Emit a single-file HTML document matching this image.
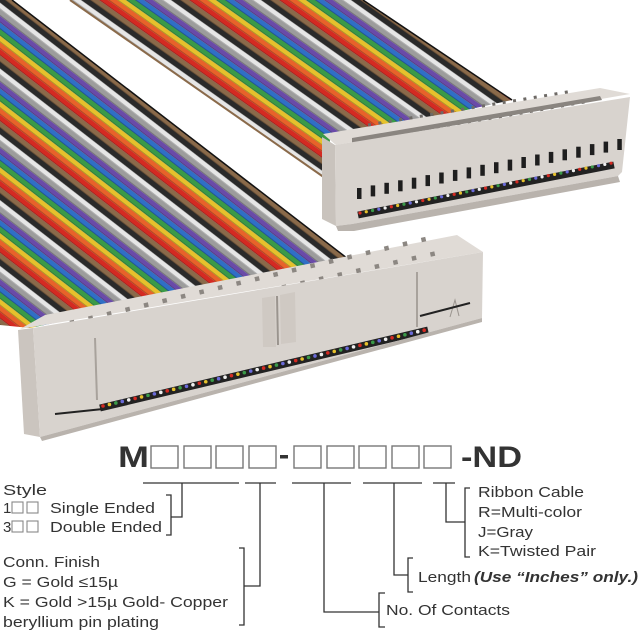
<!DOCTYPE html>
<html><head><meta charset="utf-8"><style>
html,body{margin:0;padding:0;background:#fff}
svg{display:block}
text{font-family:"Liberation Sans",sans-serif;fill:#333}
</style></head><body>
<svg width="640" height="640" viewBox="0 0 640 640" xmlns="http://www.w3.org/2000/svg">
<defs>
<g id="stripes">
<rect x="0" width="5.2" height="20" fill="#8a6a4a"/>
<rect x="5.2" width="5.2" height="20" fill="#d42a22"/>
<rect x="10.4" width="5.2" height="20" fill="#e8622a"/>
<rect x="15.6" width="5.2" height="20" fill="#e6c12c"/>
<rect x="20.8" width="5.2" height="20" fill="#3a9a48"/>
<rect x="26" width="5.2" height="20" fill="#2f6fc6"/>
<rect x="31.2" width="5.2" height="20" fill="#6a4aa8"/>
<rect x="36.4" width="5.2" height="20" fill="#9c9c9c"/>
<rect x="41.6" width="5.2" height="20" fill="#e6e6e6"/>
<rect x="46.8" width="5.2" height="20" fill="#2a2a2a"/>
<rect x="0" width="0.8" height="20" fill="#000" opacity=".3"/>
<rect x="5.2" width="0.8" height="20" fill="#000" opacity=".3"/>
<rect x="10.4" width="0.8" height="20" fill="#000" opacity=".3"/>
<rect x="15.6" width="0.8" height="20" fill="#000" opacity=".3"/>
<rect x="20.8" width="0.8" height="20" fill="#000" opacity=".3"/>
<rect x="26" width="0.8" height="20" fill="#000" opacity=".3"/>
<rect x="31.2" width="0.8" height="20" fill="#000" opacity=".3"/>
<rect x="36.4" width="0.8" height="20" fill="#000" opacity=".3"/>
<rect x="41.6" width="0.8" height="20" fill="#000" opacity=".3"/>
</g>
<pattern id="wR" patternUnits="userSpaceOnUse" width="52" height="20" patternTransform="rotate(-54.7)"><use href="#stripes"/></pattern>
<pattern id="wL" patternUnits="userSpaceOnUse" width="52" height="20" patternTransform="translate(5,0) rotate(-52.2)"><use href="#stripes"/></pattern>
</defs>

<!-- right ribbon -->
<polygon points="70,0 363,0 512,100 330,140 325,178" fill="url(#wR)"/>
<line x1="363" y1="0" x2="512" y2="100" stroke="#111" stroke-width="1.5"/>
<line x1="70" y1="0" x2="325" y2="178" stroke="#8a6a4a" stroke-width="2"/>
<!-- left ribbon -->
<polygon points="0,0 12,0 352,262 30,328 0,325" fill="url(#wL)"/>
<line x1="12" y1="0" x2="352" y2="262" stroke="#111" stroke-width="1.5"/>

<!-- small connector -->
<polygon points="323,134 600,88 630,94 336,145" fill="#e0dbd6"/>
<line x1="368" y1="125" x2="573" y2="91" stroke="#6e6a66" stroke-width="3" stroke-dasharray="3 7.5"/>
<line x1="385" y1="137" x2="590" y2="101" stroke="#6e6a66" stroke-width="3" stroke-dasharray="3 7.5"/>
<polygon points="352,138 600,96 602,100 352,143" fill="#8a8580"/>
<polygon points="322,137 335,145 336,226 322,219" fill="#c9c3bd"/>
<polygon points="335,145 630,97 622,172 618,176 352,224 336,226" fill="#d8d3ce"/>
<line x1="358" y1="215" x2="614" y2="165" stroke="#222" stroke-width="7"/>
<line x1="360" y1="213" x2="612" y2="163" stroke="#d42a22" stroke-width="3.2" stroke-linecap="round" stroke-dasharray="0 32" stroke-dashoffset="0"/>
<line x1="360" y1="213" x2="612" y2="163" stroke="#e6c12c" stroke-width="3.2" stroke-linecap="round" stroke-dasharray="0 32" stroke-dashoffset="-6.4"/>
<line x1="360" y1="213" x2="612" y2="163" stroke="#3a9a48" stroke-width="3.2" stroke-linecap="round" stroke-dasharray="0 32" stroke-dashoffset="-12.8"/>
<line x1="360" y1="213" x2="612" y2="163" stroke="#6a6ad8" stroke-width="3.2" stroke-linecap="round" stroke-dasharray="0 32" stroke-dashoffset="-19.2"/>
<line x1="360" y1="213" x2="612" y2="163" stroke="#f0f0f0" stroke-width="3.2" stroke-linecap="round" stroke-dasharray="0 32" stroke-dashoffset="-25.6"/>
<polygon points="336,226 352,224 618,176 620,182 354,231 338,231" fill="#b9b3ad"/>
<g fill="#1e1e1e">
<rect x="357" y="188" width="4.5" height="11"/><rect x="370.7" y="185.4" width="4.5" height="11"/><rect x="384.4" y="182.8" width="4.5" height="11"/><rect x="398.1" y="180.3" width="4.5" height="11"/><rect x="411.8" y="177.7" width="4.5" height="11"/><rect x="425.5" y="175.1" width="4.5" height="11"/><rect x="439.2" y="172.5" width="4.5" height="11"/><rect x="452.9" y="169.9" width="4.5" height="11"/><rect x="466.6" y="167.4" width="4.5" height="11"/><rect x="480.3" y="164.8" width="4.5" height="11"/><rect x="494" y="162.2" width="4.5" height="11"/><rect x="507.7" y="159.6" width="4.5" height="11"/><rect x="521.4" y="157" width="4.5" height="11"/><rect x="535.1" y="154.5" width="4.5" height="11"/><rect x="548.8" y="151.9" width="4.5" height="11"/><rect x="562.5" y="149.3" width="4.5" height="11"/><rect x="576.2" y="146.7" width="4.5" height="11"/><rect x="589.9" y="144.1" width="4.5" height="11"/><rect x="603.6" y="141.6" width="4.5" height="11"/><rect x="617.3" y="139" width="4.5" height="11"/>
</g>

<!-- big connector -->
<polygon points="20,329 45,315 457,235 483,252" fill="#e0dbd6"/>
<line x1="70" y1="323" x2="430" y2="238" stroke="#8c8782" stroke-width="4.5" stroke-dasharray="4.5 14.5"/>
<line x1="78" y1="333" x2="442" y2="252" stroke="#8c8782" stroke-width="4.5" stroke-dasharray="4.5 14.5"/>
<polygon points="18,330 33,328 40,437 24,434" fill="#cbc5bf"/>
<polygon points="33,328 483,252 482,318 40,437" fill="#d8d3ce"/>
<polygon points="262,298 275,296 276,347 263,347" fill="#cfc9c3"/>
<polygon points="280,295 295,292 296,342 281,344" fill="#cfc9c3"/>
<line x1="277" y1="296" x2="278" y2="345" stroke="#9a948e" stroke-width="2"/>
<line x1="95" y1="338" x2="97" y2="400" stroke="#a8a29c" stroke-width="2"/>
<line x1="417" y1="272" x2="417" y2="327" stroke="#a8a29c" stroke-width="2"/>
<polyline points="450,317 455,300 459,316" fill="none" stroke="#9a948e" stroke-width="1"/>
<line x1="55" y1="414" x2="103" y2="409" stroke="#222" stroke-width="2"/>
<line x1="420" y1="316" x2="470" y2="303" stroke="#222" stroke-width="2"/>
<line x1="100" y1="408" x2="428" y2="330" stroke="#222" stroke-width="7"/>
<line x1="103" y1="406" x2="425" y2="330" stroke="#d42a22" stroke-width="3.6" stroke-linecap="round" stroke-dasharray="0 33" stroke-dashoffset="0"/>
<line x1="103" y1="406" x2="425" y2="330" stroke="#e6c12c" stroke-width="3.6" stroke-linecap="round" stroke-dasharray="0 33" stroke-dashoffset="-6.6"/>
<line x1="103" y1="406" x2="425" y2="330" stroke="#3a9a48" stroke-width="3.6" stroke-linecap="round" stroke-dasharray="0 33" stroke-dashoffset="-13.2"/>
<line x1="103" y1="406" x2="425" y2="330" stroke="#6a6ad8" stroke-width="3.6" stroke-linecap="round" stroke-dasharray="0 33" stroke-dashoffset="-19.8"/>
<line x1="103" y1="406" x2="425" y2="330" stroke="#f0f0f0" stroke-width="3.6" stroke-linecap="round" stroke-dasharray="0 33" stroke-dashoffset="-26.4"/>
<polygon points="40,437 482,318 482,322 42,441" fill="#b9b3ad"/>

<!-- part number -->
<text x="118" y="467" font-size="30" font-weight="bold" textLength="31" lengthAdjust="spacingAndGlyphs">M</text>
<g fill="none" stroke="#777" stroke-width="1.4">
<rect x="151" y="446" width="27" height="22"/><rect x="184" y="446" width="27" height="22"/><rect x="216" y="446" width="27" height="22"/><rect x="249" y="446" width="27" height="22"/>
<rect x="294" y="446" width="27" height="22"/><rect x="327" y="446" width="27" height="22"/><rect x="359" y="446" width="27" height="22"/><rect x="392" y="446" width="27" height="22"/><rect x="424" y="446" width="27" height="22"/>
</g>
<rect x="280" y="455" width="8" height="3.5" fill="#333"/>
<text x="461" y="467" font-size="30" font-weight="bold" textLength="61" lengthAdjust="spacingAndGlyphs">-ND</text>

<g stroke="#333" stroke-width="1.3" fill="none">
<line x1="143" y1="483" x2="239" y2="483"/><line x1="245" y1="483" x2="276" y2="483"/><line x1="292" y1="483" x2="351" y2="483"/><line x1="363" y1="483" x2="422" y2="483"/><line x1="433" y1="483" x2="455" y2="483"/>
<polyline points="182,483 182,517 171,517"/><polyline points="166,495 171,495 171,535 166,535"/>
<polyline points="260,483 260,586 244,586"/><polyline points="239,548 244,548 244,625 239,625"/>
<polyline points="324,483 324,612 379,612"/><polyline points="385,593 379,593 379,627 385,627"/>
<polyline points="394,483 394,575 408,575"/><polyline points="413,558 408,558 408,592 413,592"/>
<polyline points="446,483 446,522 465,522"/><polyline points="470,488 465,488 465,557 470,557"/>
</g>

<g font-size="15">
<text x="3" y="495" textLength="44" lengthAdjust="spacingAndGlyphs">Style</text>
<text x="3" y="513">1</text><text x="3" y="532">3</text>
<text x="50" y="513" textLength="105" lengthAdjust="spacingAndGlyphs">Single Ended</text>
<text x="50" y="532" textLength="112" lengthAdjust="spacingAndGlyphs">Double Ended</text>
<text x="3" y="567" textLength="97" lengthAdjust="spacingAndGlyphs">Conn. Finish</text>
<text x="3" y="587" textLength="115" lengthAdjust="spacingAndGlyphs">G = Gold ≤15µ</text>
<text x="3" y="607" textLength="225" lengthAdjust="spacingAndGlyphs">K = Gold &gt;15µ Gold- Copper</text>
<text x="3" y="627" textLength="156" lengthAdjust="spacingAndGlyphs">beryllium pin plating</text>
<text x="386" y="615" textLength="124" lengthAdjust="spacingAndGlyphs">No. Of Contacts</text>
<text x="418" y="582" textLength="53" lengthAdjust="spacingAndGlyphs">Length</text>
<text x="474" y="582" font-weight="bold" font-style="italic" textLength="164" lengthAdjust="spacingAndGlyphs">(Use “Inches” only.)</text>
<text x="478" y="497" textLength="106" lengthAdjust="spacingAndGlyphs">Ribbon Cable</text>
<text x="478" y="517" textLength="104" lengthAdjust="spacingAndGlyphs">R=Multi-color</text>
<text x="478" y="537" textLength="55" lengthAdjust="spacingAndGlyphs">J=Gray</text>
<text x="478" y="556" textLength="118" lengthAdjust="spacingAndGlyphs">K=Twisted Pair</text>
</g>
<g fill="none" stroke="#888" stroke-width="1.1">
<rect x="12" y="502" width="11" height="11"/><rect x="27" y="502" width="11" height="11"/>
<rect x="12" y="521" width="11" height="11"/><rect x="27" y="521" width="11" height="11"/>
</g>
</svg>
</body></html>
